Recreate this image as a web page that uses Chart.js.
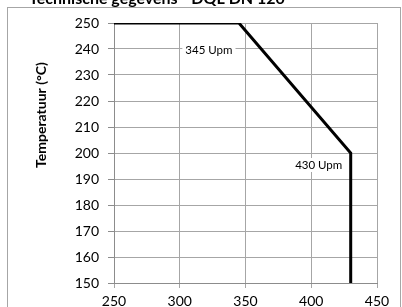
<!DOCTYPE html>
<html>
<head>
<meta charset="utf-8">
<script src="https://cdn.jsdelivr.net/npm/chart.js@4.4.1/dist/chart.umd.min.js"></script>
<style>
  html, body { margin: 0; padding: 0; background: #fff; }
  #wrap { width: 402px; height: 307px; }
</style>
</head>
<body>
<div id="wrap"><canvas id="chart" width="402" height="307"></canvas></div>
<script>
const chartTitle = "Technische gegevens - DQL DN 120";
const yTitle = "Temperatuur (°C)";
const speed = [250, 345, 430, 430];
const temperature = [250, 250, 200, 150];
const pointLabels = ["", "345 Upm", "430 Upm", ""];

const FONT = "Lato, 'Liberation Sans', sans-serif";

// frame, title, y title and the Upm labels
const extras = {
  id: "extras",
  beforeDraw(chart) {
    const ctx = chart.ctx;
    ctx.save();
    ctx.fillStyle = "#fff";
    ctx.fillRect(0, 0, chart.width, chart.height);
    ctx.strokeStyle = "#a6a6a6";
    ctx.lineWidth = 1;
    ctx.strokeRect(7.5, 7.5, 393, 320);
    ctx.restore();
  },
  afterDraw(chart) {
    const ctx = chart.ctx;
    const xs = chart.scales.x;
    const ys = chart.scales.y;
    ctx.save();
    ctx.fillStyle = "#000";
    ctx.font = "bold 16px " + FONT;
    ctx.textAlign = "center";
    ctx.textBaseline = "alphabetic";
    ctx.fillText(chartTitle, 157, 4);

    ctx.translate(41, 115);
    ctx.rotate(-Math.PI / 2);
    ctx.textBaseline = "middle";
    ctx.font = "bold 14px " + FONT;
    ctx.fillText(yTitle, 0, 0);
    ctx.restore();

    const offsets = [null, [-30, 27], [-32, 12], null];
    ctx.save();
    ctx.font = "11.5px " + FONT;
    ctx.textAlign = "center";
    ctx.textBaseline = "middle";
    pointLabels.forEach((txt, i) => {
      if (!txt) return;
      const px = xs.getPixelForValue(speed[i]) + offsets[i][0];
      const py = ys.getPixelForValue(temperature[i]) + offsets[i][1];
      const w = ctx.measureText(txt).width;
      ctx.fillStyle = "#fff";
      ctx.fillRect(px - w / 2 - 3, py - 7, w + 6, 14);
      ctx.fillStyle = "#000";
      ctx.fillText(txt, px, py);
    });
    ctx.restore();
  }
};

new Chart(document.getElementById("chart"), {
  type: "line",
  data: {
    datasets: [{
      data: speed.map((s, i) => ({ x: s, y: temperature[i] })),
      borderColor: "#000",
      borderWidth: 3,
      pointRadius: 0,
      fill: false,
      tension: 0
    }]
  },
  options: {
    responsive: false,
    animation: false,
    layout: { padding: { top: 23, right: 25, left: 0, bottom: 0 } },
    plugins: { legend: { display: false }, tooltip: { enabled: false } },
    scales: {
      x: {
        type: "linear",
        min: 250,
        max: 450,
        afterFit(scale) { scale.height = 24; },
        ticks: {
          stepSize: 50,
          padding: 5,
          color: "#000",
          font: { family: FONT, size: 14 }
        },
        grid: {
          color: "#a6a6a6",
          tickColor: "#a6a6a6",
          tickLength: 5
        },
        border: { color: "#8c8c8c" }
      },
      y: {
        min: 150,
        max: 250,
        afterFit(scale) { scale.width = 114; },
        ticks: {
          stepSize: 5,
          padding: 9,
          color: "#000",
          font: { family: FONT, size: 14 },
          callback: (v) => (v % 10 === 0 ? v : "")
        },
        grid: {
          color: (c) => (c.tick && c.tick.value % 10 === 0 ? "#a6a6a6" : "#d9d9d9"),
          tickColor: (c) => (c.tick && c.tick.value % 10 === 0 ? "#8c8c8c" : "rgba(0,0,0,0)"),
          tickLength: 6
        },
        border: { color: "#8c8c8c" }
      }
    }
  },
  plugins: [extras]
});
</script>
</body>
</html>
